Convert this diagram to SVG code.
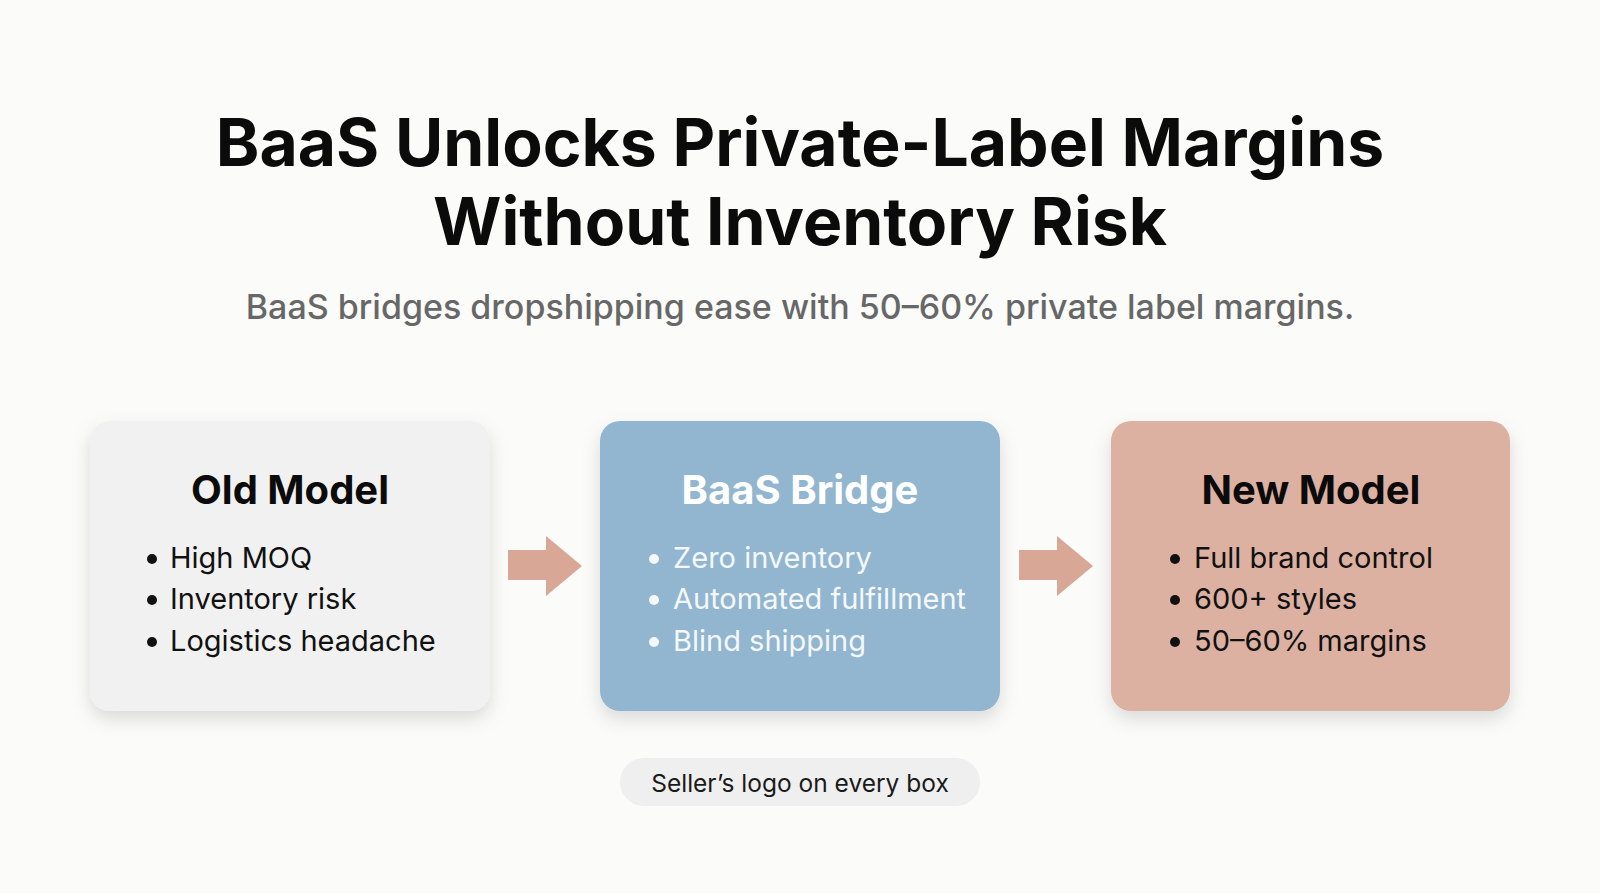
<svg xmlns="http://www.w3.org/2000/svg" width="1600" height="893" viewBox="0 0 1600 893">
<defs>
<style>
.title{font-family:Inter,"Noto Sans",sans-serif;font-weight:700;font-size:66px;fill:#0b0b0b;text-anchor:middle}
.sub{font-family:Inter,"Noto Sans",sans-serif;font-weight:500;font-size:34px;fill:#676767;text-anchor:middle}
.head{font-family:Inter,"Noto Sans",sans-serif;font-weight:700;font-size:40px;text-anchor:middle}
.item{font-family:Inter,"Noto Sans",sans-serif;font-weight:400;font-size:29px}
.pill{font-family:Inter,"Noto Sans",sans-serif;font-weight:400;font-size:24.5px;fill:#1a1a1a;text-anchor:middle}
.arrow{fill:#d9a796}
</style>
<filter id="sh" x="-20%" y="-20%" width="140%" height="150%">
<feDropShadow dx="0" dy="8" stdDeviation="9" flood-color="#000" flood-opacity="0.13"/>
</filter>
</defs>
<rect width="1600" height="893" fill="#fbfbfa"/>
<text class="title" x="800" y="166">BaaS Unlocks Private-Label Margins</text>
<text class="title" x="800" y="245">Without Inventory Risk</text>
<text class="sub" x="800" y="319">BaaS bridges dropshipping ease with 50–60% private label margins.</text>
<g id="old-model">
<rect x="90" y="421" width="400" height="290" rx="20" fill="#f1f1f1" filter="url(#sh)"/>
<text class="head" x="290" y="504" fill="#0b0b0b">Old Model</text>
<g fill="#111">
<circle cx="152" cy="559" r="5"/><circle cx="152" cy="600" r="5"/><circle cx="152" cy="642" r="5"/>
<text class="item" x="170" y="568">High MOQ</text>
<text class="item" x="170" y="609">Inventory risk</text>
<text class="item" x="170" y="651">Logistics headache</text>
</g>
</g>
<g id="baas-bridge">
<rect x="600" y="421" width="400" height="290" rx="20" fill="#92b5d0" filter="url(#sh)"/>
<text class="head" x="800" y="504" fill="#ffffff">BaaS Bridge</text>
<g fill="#f4f8fb">
<circle cx="654" cy="559" r="5"/><circle cx="654" cy="600" r="5"/><circle cx="654" cy="642" r="5"/>
<text class="item" x="673" y="568">Zero inventory</text>
<text class="item" x="673" y="609">Automated fulfillment</text>
<text class="item" x="673" y="651">Blind shipping</text>
</g>
</g>
<g id="new-model">
<rect x="1111" y="421" width="399" height="290" rx="20" fill="#dcb1a1" filter="url(#sh)"/>
<text class="head" x="1311" y="504" fill="#0b0b0b">New Model</text>
<g fill="#111">
<circle cx="1175" cy="559" r="5"/><circle cx="1175" cy="600" r="5"/><circle cx="1175" cy="642" r="5"/>
<text class="item" x="1194" y="568">Full brand control</text>
<text class="item" x="1194" y="609">600+ styles</text>
<text class="item" x="1194" y="651">50–60% margins</text>
</g>
</g>
<g id="connectors">
<polygon class="arrow" points="508,550 546,550 546,536 582,566 546,596 546,580 508,580"/>
<polygon class="arrow" points="1019,550 1057,550 1057,536 1093,566 1057,596 1057,580 1019,580"/>
</g>
<g id="note">
<rect x="620" y="758" width="360" height="48" rx="24" fill="#efefef"/>
<text class="pill" x="800" y="792">Seller’s logo on every box</text>
</g>
</svg>
